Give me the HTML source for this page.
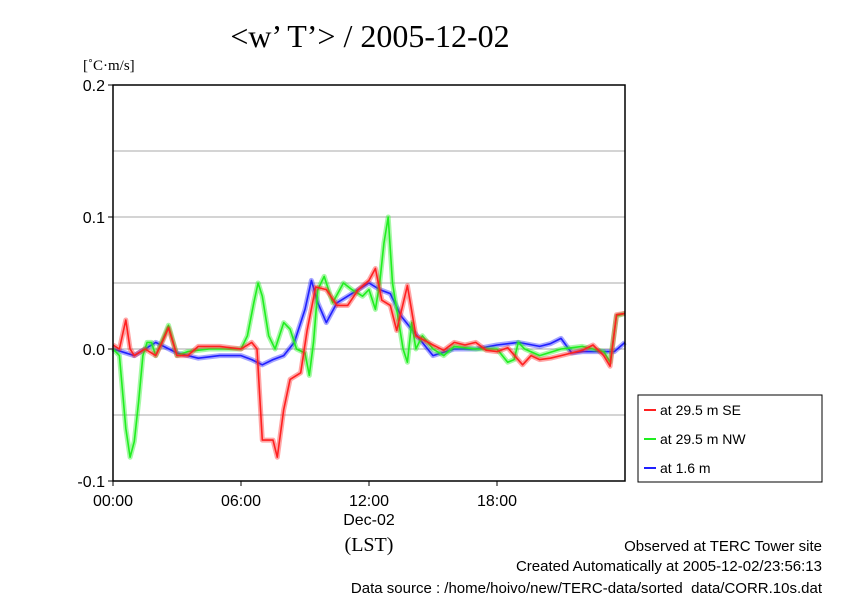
<!DOCTYPE html>
<html><head><meta charset="utf-8"><style>
body{margin:0;background:#fff;width:842px;height:595px;overflow:hidden}
svg text{font-family:"Liberation Sans",sans-serif}
</style></head><body>
<svg width="842" height="595">
<text x="370" y="47" text-anchor="middle" font-size="32" style="font-family:'Liberation Serif',serif">&lt;w’ T’&gt; / 2005-12-02</text>
<text x="83" y="70" font-size="15" style="font-family:'Liberation Serif',serif">[˚C·m/s]</text>
<g id="grid"></g>
<g id="series"></g>
<rect x="113" y="85" width="512" height="396" fill="none" stroke="#000" stroke-width="1.5"/>
<g id="axes"></g>
<text x="369" y="525" text-anchor="middle" font-size="16">Dec-02</text>
<text x="369" y="551" text-anchor="middle" font-size="20" style="font-family:'Liberation Serif',serif">(LST)</text>
<g>
<rect x="638" y="395" width="184" height="87" fill="#fff" stroke="#000"/>
<g id="legend"></g>
</g>
<text x="822" y="551" text-anchor="end" font-size="15">Observed at TERC Tower site</text>
<text x="822" y="571" text-anchor="end" font-size="15">Created Automatically at 2005-12-02/23:56:13</text>
<text x="822" y="593" text-anchor="end" font-size="15">Data source : /home/hoivo/new/TERC-data/sorted_data/CORR.10s.dat</text>
</svg>
<script>
const yTicks=[0.2,0.1,0.0,-0.1];
const yTickLabels=["0.2","0.1","0.0","-0.1"];
const gridVals=[0.15,0.1,0.05,0.0,-0.05];
const xTicks=[0,6,12,18];
const xTickLabels=["00:00","06:00","12:00","18:00"];
const seNames=["at 29.5 m SE","at 29.5 m NW","at 1.6 m"];
const redT=[0,0.3,0.6,0.8,1.0,1.5,2.0,2.3,2.6,3.0,3.5,4.0,5,6,6.5,6.75,7.0,7.5,7.7,8.0,8.3,8.8,9.1,9.5,10,10.5,11,11.5,12,12.3,12.6,13,13.3,13.8,14.2,15,15.5,16,16.5,17,17.5,18,18.5,19.2,19.6,20,20.5,21,22,22.5,23,23.3,23.6,24];
const redV=[0.003,0,0.022,0,-0.005,0,-0.005,0.005,0.016,-0.005,-0.005,0.002,0.002,0,0.005,0,-0.069,-0.069,-0.082,-0.046,-0.023,-0.018,0.014,0.047,0.045,0.033,0.033,0.045,0.052,0.061,0.037,0.033,0.014,0.048,0.01,0.003,-0.001,0.005,0.003,0.005,-0.001,-0.002,0.001,-0.012,-0.005,-0.008,-0.007,-0.005,-0.001,0.003,-0.005,-0.013,0.026,0.027];
const greenT=[0,0.3,0.6,0.8,1.0,1.2,1.4,1.6,1.8,2.0,2.4,2.6,3.0,3.5,4.5,5.5,6.0,6.3,6.6,6.8,7.0,7.3,7.6,8.0,8.3,8.6,9.0,9.2,9.4,9.6,9.9,10.3,10.8,11.2,11.7,12.0,12.3,12.5,12.7,12.9,13.1,13.3,13.6,13.8,14.0,14.2,14.5,15,15.5,16,17,18,18.5,18.8,19.0,19.3,20,21,22,22.5,23,23.3,23.6,24];
const greenV=[0,-0.005,-0.06,-0.082,-0.07,-0.04,-0.005,0.005,0.005,-0.005,0.01,0.018,-0.005,-0.002,0,0,0,0.01,0.035,0.05,0.04,0.01,0,0.02,0.015,0,-0.003,-0.02,0.005,0.045,0.055,0.035,0.05,0.045,0.04,0.045,0.03,0.05,0.08,0.1,0.05,0.03,0,-0.01,0.02,0,0.01,0,-0.005,0.002,0,0,-0.01,-0.008,0.005,0,-0.005,0,0.002,0,-0.002,-0.01,0.025,0.027];
const blueT=[0,1,2,3,4,5,6,6.5,7,7.5,8,8.5,9,9.3,9.6,10,10.5,11,11.5,12,12.5,13,13.5,14,15,16,17,18,19,20,20.5,21,21.5,22,23,23.5,24];
const blueV=[0,-0.005,0.005,-0.003,-0.007,-0.005,-0.005,-0.008,-0.012,-0.008,-0.005,0.005,0.03,0.052,0.035,0.02,0.035,0.04,0.045,0.05,0.045,0.042,0.025,0.015,-0.005,0,0,0.003,0.005,0.002,0.004,0.008,-0.003,-0.002,-0.002,-0.002,0.005];
const X0=113,X1=625,Y0=481,Y1=85;
const xs=h=>X0+(X1-X0)*h/24;
const ys=v=>Y0-(Y0-Y1)*(v+0.1)/0.3;
const NS="http://www.w3.org/2000/svg";
function mk(tag,attrs,parent){const e=document.createElementNS(NS,tag);for(const k in attrs)e.setAttribute(k,attrs[k]);parent.appendChild(e);return e;}
const grid=document.getElementById('grid'),axes=document.getElementById('axes'),series=document.getElementById('series'),legend=document.getElementById('legend');
gridVals.forEach(v=>{const l=mk('line',{x1:X0,x2:X1,y1:ys(v),y2:ys(v),stroke:'#aaa','stroke-width':1},grid);

});
yTicks.forEach((v,i)=>{const l=mk('line',{x1:X0-5,x2:X0,y1:ys(v),y2:ys(v),stroke:'#000'},axes);


const t=mk('text',{x:X0-8,y:ys(v)+6,'text-anchor':'end','font-size':16},axes);t.textContent=yTickLabels[i];

});
xTicks.forEach((h,i)=>{const l=mk('line',{x1:xs(h),x2:xs(h),y1:Y0,y2:Y0+5,stroke:'#000'},axes);


const t=mk('text',{x:xs(h),y:506,'text-anchor':'middle','font-size':16},axes);t.textContent=xTickLabels[i];

});
const defs=[[redT,redV,'#ff2020','series-se'],[greenT,greenV,'#20ee20','series-nw'],[blueT,blueV,'#2020ff','series-1-6m']];
[2,1,0].forEach(k=>{const [T,V,c,n]=defs[k];const pts=T.map((t,i)=>xs(t).toFixed(1)+','+ys(V[i]).toFixed(1)).join(' ');
const h=mk('polyline',{points:pts,fill:'none',stroke:c,'stroke-width':5,'stroke-opacity':0.4,'stroke-linejoin':'round'},series);


const l=mk('polyline',{points:pts,fill:'none',stroke:c,'stroke-width':1.6,'stroke-linejoin':'round'},series);

});
defs.forEach((d,i)=>{const y=410+i*29;
const l=mk('line',{x1:644,x2:656,y1:y,y2:y,stroke:d[2],'stroke-width':2},legend);


const t=mk('text',{x:660,y:y+5,'font-size':14},legend);t.textContent=seNames[i];

});
</script>
</body></html>
